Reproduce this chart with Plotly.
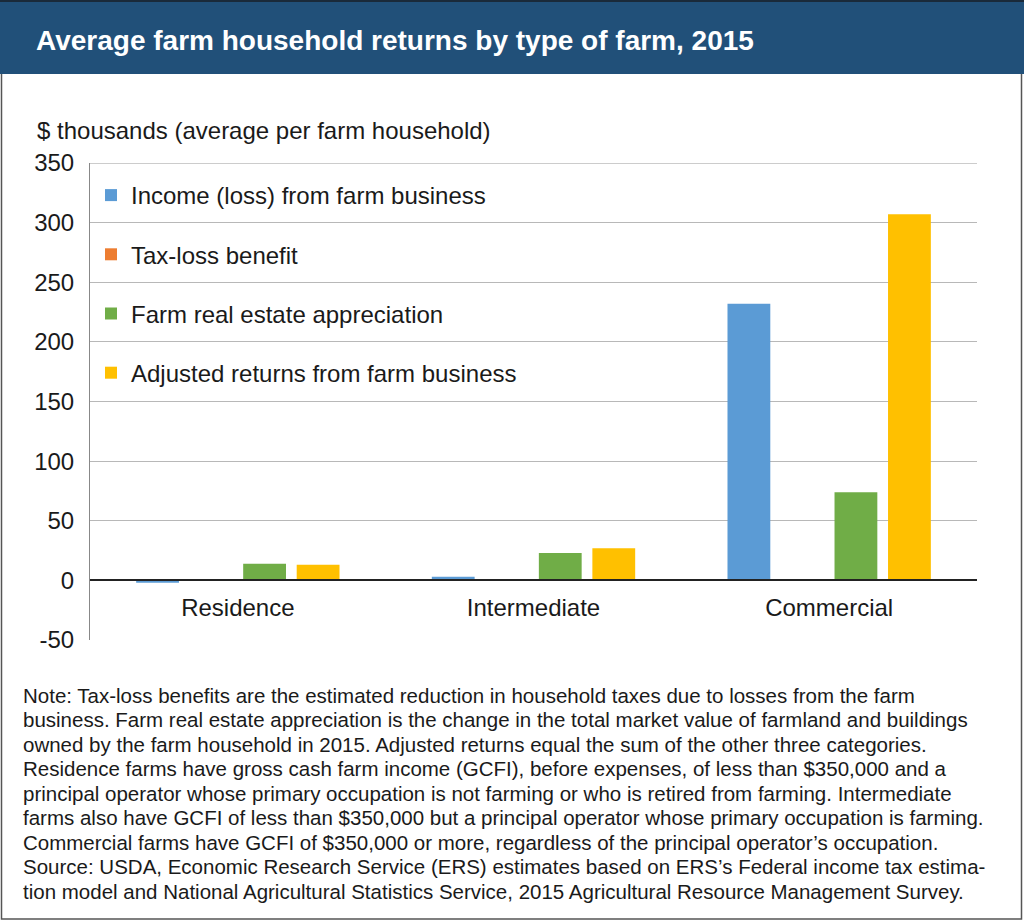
import plotly.graph_objects as go

# ------------------------------------------------------------------
# Data ($ thousands, average per farm household), 2015
# ------------------------------------------------------------------
farm_types = ["Residence", "Intermediate", "Commercial"]

income_farm_business = [-2, 3, 232]
tax_loss_benefit = [1, 0.5, 0.5]
real_estate_appreciation = [14, 23, 74]
adjusted_returns = [13, 27, 307]

series_names = [
    "Income (loss) from farm business",
    "Tax-loss benefit",
    "Farm real estate appreciation",
    "Adjusted returns from farm business",
]
series_colors = ["#5b9bd5", "#ed7d31", "#70ad47", "#ffc000"]

y_ticks = [-50, 0, 50, 100, 150, 200, 250, 300, 350]
y_tick_labels = ["-50", "0", "50", "100", "150", "200", "250", "300", "350"]

title_text = "Average farm household returns by type of farm, 2015"
y_title = "$ thousands (average per farm household)"
note_lines = [
    "Note: Tax-loss benefits are the estimated reduction in household taxes due to losses from the farm",
    "business. Farm real estate appreciation is the change in the total market value of farmland and buildings",
    "owned by the farm household in 2015. Adjusted returns equal the sum of the other three categories.",
    "Residence farms have gross cash farm income (GCFI), before expenses, of less than $350,000 and a",
    "principal operator whose primary occupation is not farming or who is retired from farming. Intermediate",
    "farms also have GCFI of less than $350,000 but a principal operator whose primary occupation is farming.",
    "Commercial farms have GCFI of $350,000 or more, regardless of the principal operator\u2019s occupation.",
    "Source: USDA, Economic Research Service (ERS) estimates based on ERS\u2019s Federal income tax estima-",
    "tion model and National Agricultural Statistics Service, 2015 Agricultural Resource Management Survey.",
]

# ------------------------------------------------------------------
# Geometry helpers (page pixels -> paper coordinates)
# ------------------------------------------------------------------
W, H = 1024, 921
L, R, T, B = 90, 47, 163, 281
PW, PH = W - L - R, H - T - B


def px(x):
    return (x - L) / PW


def py(y):
    return (H - B - y) / PH


FONT = "Liberation Sans, Arial, Helvetica, sans-serif"

fig = go.Figure()
for name, vals, color in zip(
    series_names,
    [income_farm_business, tax_loss_benefit, real_estate_appreciation, adjusted_returns],
    series_colors,
):
    fig.add_trace(
        go.Bar(
            x=farm_types,
            y=vals,
            name=name,
            marker_color=color,
            marker_line_width=0,
            legendgroup=name,
        )
    )

fig.update_layout(
    width=W,
    height=H,
    margin=dict(l=L, r=R, t=T, b=B),
    paper_bgcolor="white",
    plot_bgcolor="white",
    barmode="group",
    bargap=0.276,
    bargroupgap=0.2,
    font=dict(family=FONT, size=24, color="#1a1a1a"),
    showlegend=True,
    legend=dict(
        x=px(91),
        y=py(173),
        xanchor="left",
        yanchor="top",
        bgcolor="rgba(0,0,0,0)",
        font=dict(size=24),
        tracegroupgap=25,
        traceorder="grouped",
    ),
    xaxis=dict(
        anchor="free",
        position=50 / 400,
        showline=True,
        linecolor="#222222",
        linewidth=1.5,
        ticks="outside",
        ticklen=6,
        tickcolor="rgba(0,0,0,0)",
        showgrid=False,
        tickfont=dict(size=24),
    ),
    yaxis=dict(
        range=[-50, 350],
        tickvals=y_ticks,
        ticktext=y_tick_labels,
        showline=True,
        linecolor="#888888",
        linewidth=1,
        showgrid=True,
        gridcolor="#b8b8b8",
        gridwidth=1,
        zeroline=False,
        ticks="outside",
        ticklen=10,
        tickcolor="rgba(0,0,0,0)",
        tickfont=dict(size=24),
    ),
)

# header band
fig.add_shape(
    type="rect", xref="paper", yref="paper",
    x0=px(0), x1=px(W), y0=py(74), y1=py(0),
    fillcolor="#215079", line_width=0, layer="below",
)
fig.add_shape(
    type="line", xref="paper", yref="paper",
    x0=px(0), x1=px(W), y0=py(1), y1=py(1),
    line=dict(color="#1a2a3a", width=2),
)
# outer frame below the header
fig.add_shape(
    type="path", xref="paper", yref="paper",
    path=f"M {px(1.5)},{py(74)} L {px(1.5)},{py(919)} L {px(1021.5)},{py(919)} L {px(1021.5)},{py(74)}",
    line=dict(color="#555555", width=1.5),
)
# top border of plot area at 350
fig.add_shape(
    type="line", xref="paper", yref="y",
    x0=0, x1=1, y0=350, y1=350,
    line=dict(color="#9a9a9a", width=1),
)

fig.add_annotation(
    text=f"<b>{title_text}</b>", xref="paper", yref="paper",
    x=px(34), y=py(41), xanchor="left", yanchor="middle",
    showarrow=False, font=dict(size=28, color="white", family=FONT),
)
fig.add_annotation(
    text=y_title, xref="paper", yref="paper",
    x=px(35), y=py(130), xanchor="left", yanchor="middle",
    showarrow=False, font=dict(size=24, color="#1a1a1a"),
)
for i, line in enumerate(note_lines):
    fig.add_annotation(
        text=line, xref="paper", yref="paper",
        x=px(21), y=py(695 + 24.5 * i), xanchor="left", yanchor="middle",
        align="left", showarrow=False,
        font=dict(size=20.5, color="#1a1a1a"),
    )

fig.write_html(
    "out.html",
    config={"displayModeBar": False},
    post_script="document.body.style.margin='0';",
)
